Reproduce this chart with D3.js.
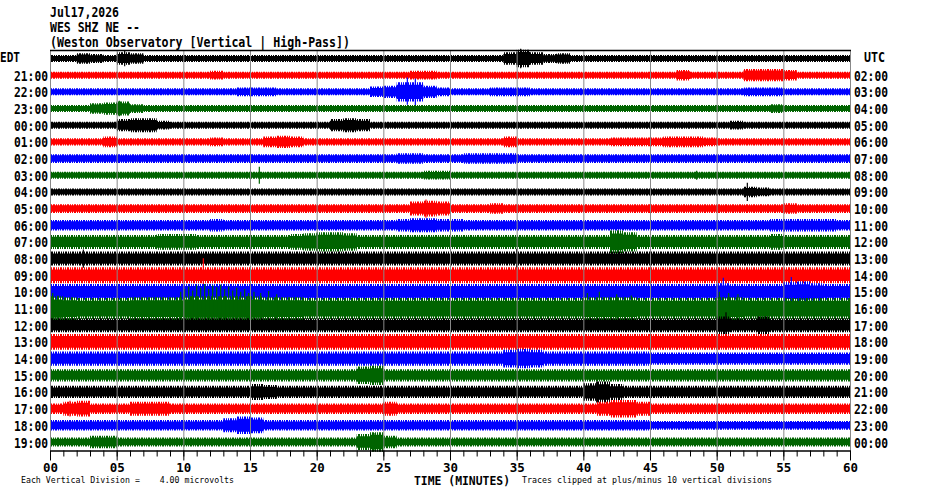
<!DOCTYPE html>
<html>
<head>
<meta charset="utf-8">
<script src="https://cdn.jsdelivr.net/npm/d3@7"></script>
<style>
  body { margin: 0; background: #fff; }
  svg { display: block; }
  text { font-family: "DejaVu Sans Mono", "Liberation Mono", monospace; fill: #000; }
</style>
</head>
<body>
<div id="chart"></div>
<script>
// header lines
const titleLines = ["Jul17,2026", "WES SHZ NE --", "(Weston Observatory [Vertical | High-Pass])"];

// hour labels, rows 1..23 (row 0 carries the zone names)
const edtHours = ["21:00", "22:00", "23:00", "00:00", "01:00", "02:00", "03:00", "04:00", "05:00", "06:00",
  "07:00", "08:00", "09:00", "10:00", "11:00", "12:00", "13:00", "14:00", "15:00", "16:00", "17:00", "18:00", "19:00"];
const utcHours = ["02:00", "03:00", "04:00", "05:00", "06:00", "07:00", "08:00", "09:00", "10:00", "11:00",
  "12:00", "13:00", "14:00", "15:00", "16:00", "17:00", "18:00", "19:00", "20:00", "21:00", "22:00", "23:00", "00:00"];

const traceColors = ["#000000", "#ff0000", "#0000ff", "#006400"];
const majorTicks = [0, 5, 10, 15, 20, 25, 30, 35, 40, 45, 50, 55, 60];

// dense trace amplitude per minute for each hour row, in microvolts (one base-36 digit per minute)
const traceLevels = [
  "4465476444 4444444444 4444444444 44447a7564 4444444444 4444444444", // 20:00
  "4444444444 4454444444 4444444554 4444444444 4444444644 4477764444", // 21:00
  "4444444444 4444555444 444467bb75 4445554444 4444444444 4455544444", // 22:00
  "4446785444 4444444444 4444444444 4444444444 4444444444 4444544444", // 23:00
  "4444478854 4444444444 4787444444 4444444444 4444444444 4544444444", // 00:00
  "4444644444 4454446764 4444444444 4444644444 4455556665 4444444444", // 01:00
  "5555555555 5555555555 5555556655 5666655555 5555555555 5555555555", // 02:00
  "4444444444 4444444444 4444444455 4444444444 4444444444 4444444444", // 03:00
  "4444444444 4444444444 4444444444 4444444444 4444444444 4465444444", // 04:00
  "5555555555 5555555555 5555555898 5556555555 5555555555 5555565555", // 05:00
  "6666666666 6676666666 6666667887 7666666666 6666666666 6666777776", // 06:00
  "8888888899 988888889a bba8888888 8888888888 88db888888 8888988888", // 07:00
  "8888888888 8888888888 8888888888 8888888888 8888888888 8888888888", // 08:00
  "9999999999 9999999999 9999999999 9999999999 9999999999 9999999999", // 09:00
  "9999999999 9999999999 9999999999 9999999999 9999999999 a9999bca99", // 10:00
  "edccccdddd eeeeeedddc cccccccccc cccccccccc ddddcccccc ddcccccccc", // 11:00
  "8888888888 8888888888 8888888888 8888888888 8888888888 a88a888888", // 12:00
  "9999999999 9999999999 9999999999 9999999999 9999999999 9999999999", // 13:00
  "8888888888 8888888888 8888888888 8888aba888 8888877777 7777777777", // 14:00
  "7777777777 7777777777 777ab77777 7777777777 7777777777 7777777777", // 15:00
  "7777777777 7777798777 7777777777 7777777777 ac97777777 7777777777", // 16:00
  "6896668886 6666666666 6666686666 6666666666 68aa866666 6666666666", // 17:00
  "6666666666 6668a96666 6666666666 6666666666 6666655555 5555555555", // 18:00
  "5557755555 5555555555 5559b75555 5555555555 5555555555 5555555555"  // 19:00
];

// isolated spikes: [row, minute, reach up, reach down] in microvolts
const spikes = [
  [0, 5.6, 12, 12], [0, 35.3, 15, 15], [2, 26.8, 22, 20], [2, 27.4, 20, 22], [3, 5.2, 12, 12],
  [7, 15.7, 13, 13], [7, 48.5, 7, 7], [8, 52.3, 14, 14], [9, 28.2, 14, 14], [11, 42.6, 18, 18],
  [12, 2.5, 14, 14], [12, 35.0, 15, 15], [13, 11.5, 26, 14], [14, 50.5, 22, 16], [14, 55.6, 23, 12],
  [15, 0.2, 24, 16], [15, 0.6, 20, 15],
  [15, 9.8, 26, 16], [15, 10.1, 30, 16], [15, 10.4, 34, 17], [15, 10.7, 28, 16], [15, 11.0, 36, 18],
  [15, 11.3, 32, 16], [15, 11.6, 38, 17], [15, 11.9, 30, 16], [15, 12.2, 36, 18], [15, 12.5, 33, 16],
  [15, 12.8, 37, 17], [15, 13.1, 30, 16], [15, 13.4, 34, 16], [15, 13.7, 28, 16], [15, 14.0, 32, 17],
  [15, 14.3, 26, 16], [15, 14.6, 30, 16], [15, 14.9, 24, 16], [15, 15.3, 26, 16], [15, 15.8, 24, 15],
  [15, 16.4, 27, 15], [15, 17.0, 22, 15],
  [15, 40.3, 24, 14], [15, 41.2, 26, 14], [15, 42.5, 22, 14], [15, 43.6, 20, 14],
  [15, 50.2, 26, 18], [15, 50.9, 24, 18], [15, 51.6, 22, 16],
  [16, 50.7, 20, 20], [20, 41.0, 16, 16], [21, 1.5, 12, 12], [23, 24.3, 14, 14]
];

const width = 930, height = 494;
const svg = d3.select("#chart").append("svg")
  .attr("width", width)
  .attr("height", height);

const x = d3.scaleLinear().domain([0, 60]).range([50, 850]);
const row = d3.scalePoint().domain(d3.range(traceLevels.length)).range([58.5, 442]);
const amp = d3.scaleLinear().domain([0, 40]).range([0, 26]).clamp(true);
const spikeReach = 1.35; // how far the ragged spikes reach past the dense band

// ragged fill: irregular vertical hairlines, one pattern per colour
const defs = svg.append("defs");
traceColors.forEach((c, k) => {
  const p = defs.append("pattern")
    .attr("id", `rag${k}`)
    .attr("patternUnits", "userSpaceOnUse")
    .attr("width", 7)
    .attr("height", 4)
    .attr("patternTransform", `translate(${k * 2},0)`);
  [0, 2, 3, 5].forEach(px => p.append("rect")
    .attr("x", px).attr("y", 0).attr("width", 1).attr("height", 4).attr("fill", c));
});

// header
svg.append("g").selectAll("text")
  .data(titleLines)
  .join("text")
  .attr("x", 50)
  .attr("y", (d, i) => 17 + i * 15)
  .attr("font-size", "13.5px")
  .attr("font-weight", "bold")
  .attr("textLength", (d, i) => [69, 90, 300][i])
  .attr("lengthAdjust", "spacingAndGlyphs")
  .text(d => d);

// traces
const traceGroup = svg.append("g");
traceLevels.forEach((s, i) => {
  const levels = s.replace(/ /g, "").split("").map(c => parseInt(c, 36));
  const pts = levels.map((v, m) => ({ m, v }));
  pts.push({ m: 60, v: levels[levels.length - 1] });
  const cy = row(i);
  const band = k => d3.area()
    .curve(d3.curveStepAfter)
    .x(d => x(d.m))
    .y0(d => cy - amp(d.v) * k)
    .y1(d => cy + amp(d.v) * k);
  traceGroup.append("path")
    .attr("d", band(spikeReach)(pts))
    .attr("fill", `url(#rag${i % 4})`);
  traceGroup.append("path")
    .attr("d", band(1)(pts))
    .attr("fill", traceColors[i % 4]);
  traceGroup.selectAll(null)
    .data(spikes.filter(d => d[0] === i))
    .join("line")
    .attr("x1", d => x(d[1]))
    .attr("x2", d => x(d[1]))
    .attr("y1", d => cy - amp(d[2]))
    .attr("y2", d => cy + amp(d[3]))
    .attr("stroke", traceColors[i % 4])
    .attr("stroke-width", 1.2);
});

// grid
svg.append("g").selectAll("line")
  .data(majorTicks)
  .join("line")
  .attr("x1", d => x(d) + 0.5)
  .attr("x2", d => x(d) + 0.5)
  .attr("y1", 50)
  .attr("y2", 450)
  .attr("stroke", "#888")
  .attr("stroke-width", 1);

svg.append("line")
  .attr("x1", 50).attr("x2", 851)
  .attr("y1", 50.5).attr("y2", 50.5)
  .attr("stroke", "#000")
  .attr("stroke-width", 1.5);

// axis
const minorAxis = svg.append("g")
  .attr("transform", "translate(0,450.5)")
  .call(d3.axisBottom(x).ticks(60).tickSize(6).tickSizeOuter(0).tickFormat(""));
minorAxis.select(".domain").attr("stroke-width", 1.5);

const majorAxis = svg.append("g")
  .attr("transform", "translate(0,450.5)")
  .call(d3.axisBottom(x).tickValues(majorTicks).tickSize(10).tickSizeOuter(0).tickFormat(d3.format("02d")));
majorAxis.select(".domain").remove();
majorAxis.selectAll("text")
  .attr("y", 21)
  .attr("dy", null)
  .attr("font-family", "DejaVu Sans Mono")
  .attr("font-size", "12px")
  .attr("font-weight", "bold")
  .attr("textLength", 15)
  .attr("lengthAdjust", "spacingAndGlyphs");

// hour labels
const labelFont = sel => sel
  .attr("font-size", "13.5px")
  .attr("font-weight", "bold")
  .attr("textLength", 34)
  .attr("lengthAdjust", "spacingAndGlyphs");

svg.append("g").selectAll("text")
  .data(edtHours)
  .join("text")
  .attr("x", 48)
  .attr("y", (d, i) => row(i + 1) + 5.5)
  .attr("text-anchor", "end")
  .call(labelFont)
  .text(d => d);

svg.append("g").selectAll("text")
  .data(utcHours)
  .join("text")
  .attr("x", 854)
  .attr("y", (d, i) => row(i + 1) + 5.5)
  .call(labelFont)
  .text(d => d);

svg.append("text")
  .attr("x", 0).attr("y", 61.5)
  .attr("font-size", "13.5px").attr("font-weight", "bold")
  .attr("textLength", 20).attr("lengthAdjust", "spacingAndGlyphs")
  .text("EDT");
svg.append("text")
  .attr("x", 864).attr("y", 61.5)
  .attr("font-size", "13.5px").attr("font-weight", "bold")
  .attr("textLength", 21).attr("lengthAdjust", "spacingAndGlyphs")
  .text("UTC");

// footer
svg.append("text")
  .attr("x", 414).attr("y", 485)
  .attr("font-size", "12px").attr("font-weight", "bold")
  .attr("textLength", 96).attr("lengthAdjust", "spacingAndGlyphs")
  .text("TIME (MINUTES)");
svg.append("text")
  .attr("x", 21).attr("y", 483)
  .attr("font-size", "8.5px")
  .attr("textLength", 213).attr("lengthAdjust", "spacingAndGlyphs")
  .style("white-space", "pre")
  .text("Each Vertical Division =    4.00 microvolts");
svg.append("text")
  .attr("x", 522).attr("y", 483)
  .attr("font-size", "8.5px")
  .attr("textLength", 250).attr("lengthAdjust", "spacingAndGlyphs")
  .text("Traces clipped at plus/minus 10 vertical divisions");
</script>
</body>
</html>
